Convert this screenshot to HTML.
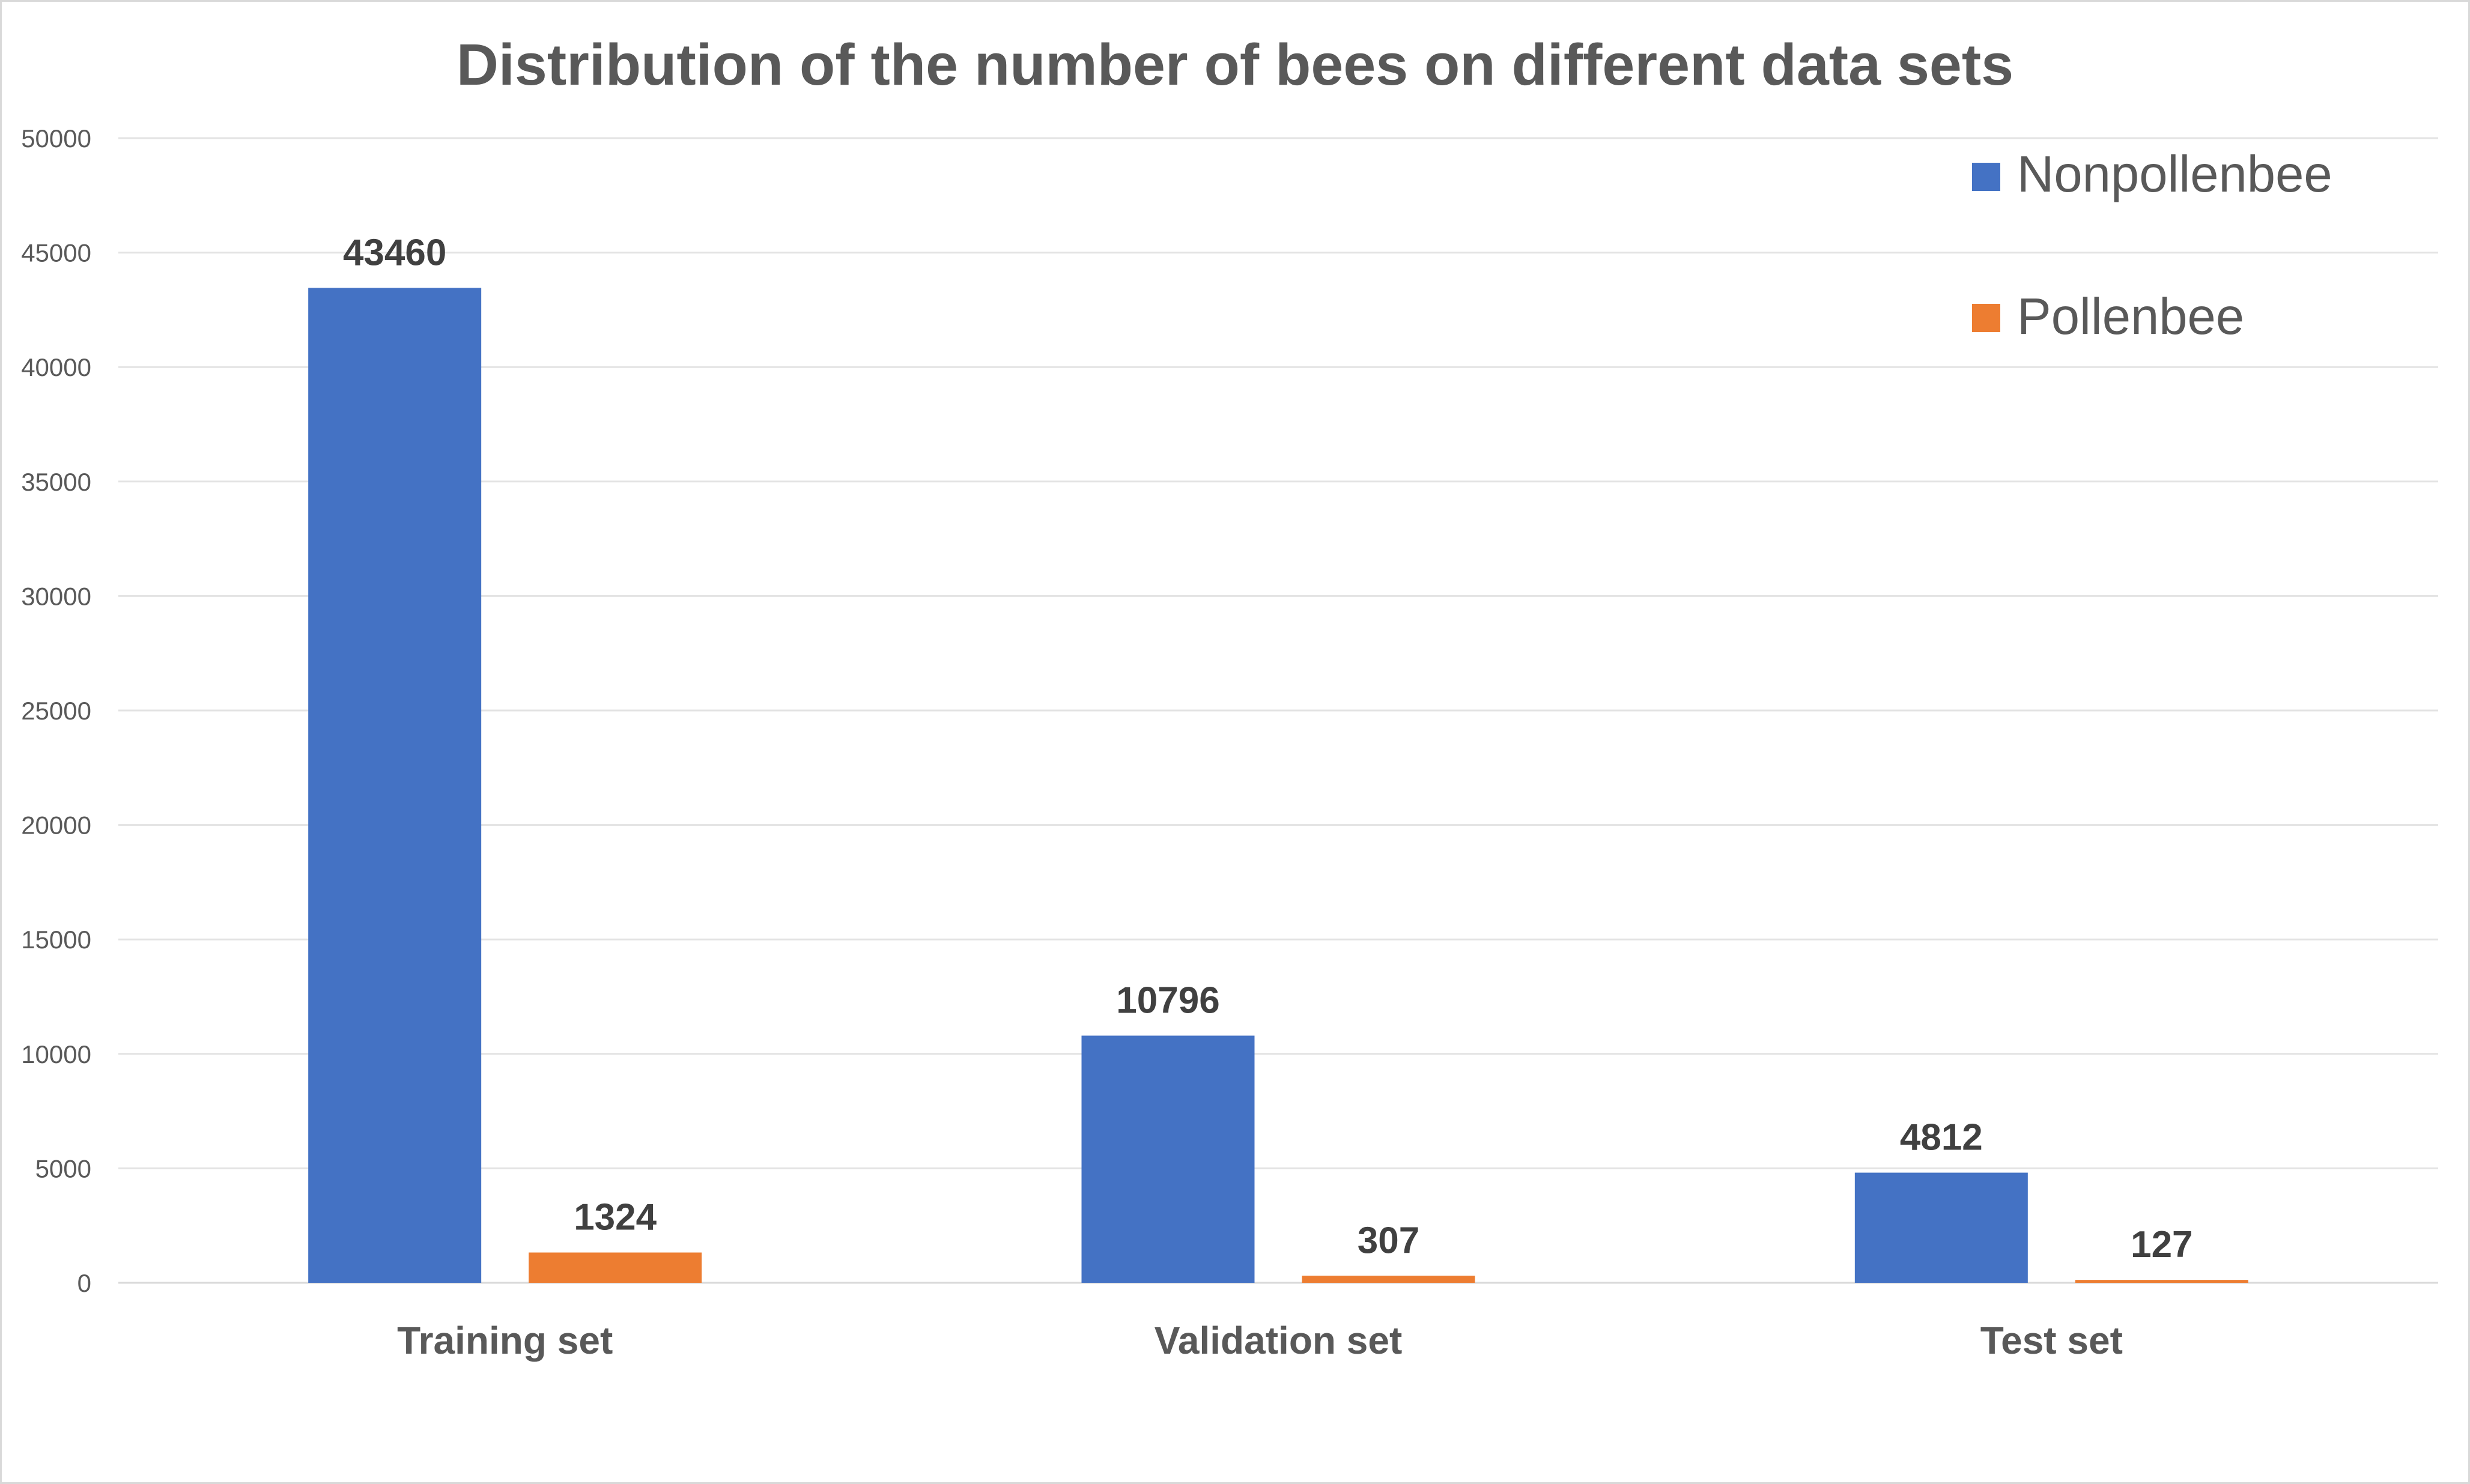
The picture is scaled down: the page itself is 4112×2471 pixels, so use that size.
<!DOCTYPE html>
<html><head><meta charset="utf-8">
<style>
html,body{margin:0;padding:0;background:#fff;}
svg{display:block;font-family:"Liberation Sans",sans-serif;}
</style></head>
<body>
<svg id="chart" width="4112" height="2471" viewBox="0 0 4112 2471" xmlns="http://www.w3.org/2000/svg">
<rect x="1.5" y="1.5" width="4109" height="2468" fill="#fff" stroke="#d9d9d9" stroke-width="3"/>
<text x="2056" y="141" text-anchor="middle" font-size="97" font-weight="bold" fill="#595959">Distribution of the number of bees on different data sets</text>
<g id="grid"></g><g id="bars"></g><g id="labels"></g>
<g>
<g>
<rect x="3283" y="271" width="47" height="47" fill="#4472C4"/>
<text x="3358" y="319" font-size="85" fill="#595959">Nonpollenbee</text></g>
<g>
<rect x="3283" y="506" width="47" height="47" fill="#ED7D31"/>
<text x="3358" y="556" font-size="85" fill="#595959">Pollenbee</text></g>
</g>
</svg>
<script>
const categories = ["Training set","Validation set","Test set"];
const nonpollen = [43460,10796,4812];
const pollen = [1324,307,127];
const yTicks = [0,5000,10000,15000,20000,25000,30000,35000,40000,45000,50000];

const NS="http://www.w3.org/2000/svg";
const x0=197,x1=4059,yBase=2136,yTop=230,yMax=50000;
function y(v){return yBase-(v/yMax)*(yBase-yTop);}
const bandW=(x1-x0)/categories.length;
function cx(i){return x0+bandW*(i+0.5);}
const barW=288,gap=79;
function mk(tag,attrs,parent){const e=document.createElementNS(NS,tag);for(const k in attrs)e.setAttribute(k,attrs[k]);parent.appendChild(e);return e;}
const grid=document.getElementById('grid'),bars=document.getElementById('bars'),labels=document.getElementById('labels');
yTicks.forEach(t=>{
  const l=mk('line',{x1:x0,x2:x1,y1:y(t),y2:y(t),stroke:t===0?'#d9d9d9':'#e3e3e3','stroke-width':3},grid);
  
  
  const tx=mk('text',{x:152,y:y(t)+15,'text-anchor':'end','font-size':42,fill:'#595959'},grid);
  tx.textContent=t;
  
  
});
categories.forEach((c,i)=>{
  const series=[[nonpollen[i],'#4472C4','nonpollenbee',-1],[pollen[i],'#ED7D31','pollenbee',1]];
  series.forEach(([v,col,nm,s])=>{
    const bx=cx(i)+(s<0?-(gap/2+barW):gap/2);
    const r=mk('rect',{x:bx,y:y(v),width:barW,height:yBase-y(v),fill:col},bars);
    
    
    const t=mk('text',{x:bx+barW/2,y:y(v)-38,'text-anchor':'middle','font-size':62,'font-weight':'bold',fill:'#404040'},labels);
    t.textContent=v;
    
    
  });
  const ct=mk('text',{x:cx(i),y:2254,'text-anchor':'middle','font-size':64,'font-weight':'bold',fill:'#595959'},labels);
  ct.textContent=c;
  
  
});
</script>
</body></html>
